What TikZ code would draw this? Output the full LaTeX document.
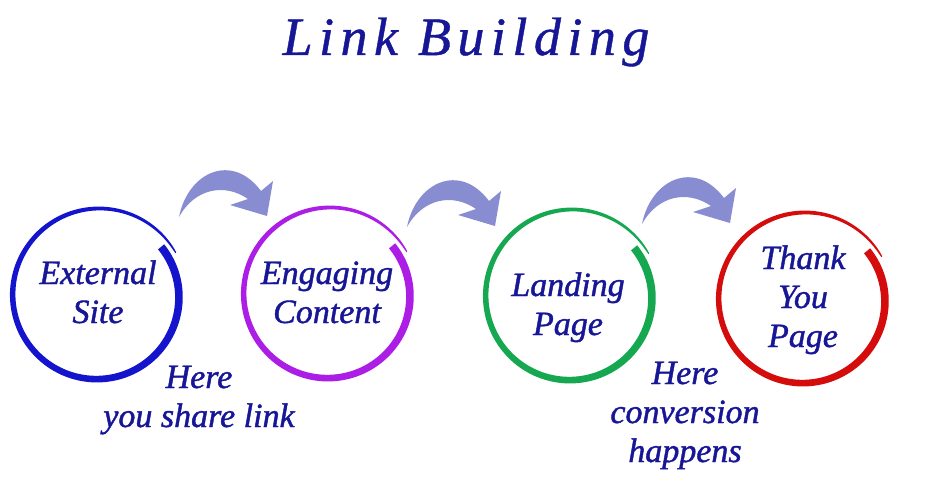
\documentclass[tikz,border=0pt]{standalone}
\usepackage{fontspec}
\setmainfont{Liberation Serif}
\newfontfamily\titlefont[LetterSpace=12,FakeBold=0.8]{Liberation Serif}
\newfontfamily\lblfont[FakeBold=1.2]{Liberation Serif}
\definecolor{txt}{RGB}{22,22,150}
\definecolor{arrowc}{RGB}{136,140,208}
\definecolor{ringblue}{RGB}{20,20,205}
\definecolor{ringpurple}{RGB}{172,30,230}
\definecolor{ringgreen}{RGB}{22,168,80}
\definecolor{ringred}{RGB}{212,12,12}
\newcommand{\ringshape}[3]{%
  \fill[#3] plot[domain=0:1,samples=160,variable=\t]
    ({#1+(80+9*\t+0.5*(1+7*sqrt(1-\t)))*cos(-38+369*\t)},{#2+(80+9*\t+0.5*(1+7*sqrt(1-\t)))*sin(-38+369*\t)})
    -- plot[domain=0:1,samples=160,variable=\t]
    ({#1+(80+9*(1-\t)-0.5*(1+7*sqrt(\t)))*cos(-38+369*(1-\t))},{#2+(80+9*(1-\t)-0.5*(1+7*sqrt(\t)))*sin(-38+369*(1-\t))})
    -- cycle;}
\newcommand{\fatarrow}[2]{%
  \fill[arrowc, shift={(#1,#2)}] (179,217) .. controls (188,172) and (232,152) .. (261,191)
    -- (273,181) -- (267,216) -- (230,205) -- (248,199)
    .. controls (225,183) and (195,188) .. (179,217) -- cycle;}
\tikzset{
  lbl/.style={text=txt, font=\fontsize{34}{39}\selectfont\lblfont\itshape, align=center, inner sep=0pt, anchor=base},
  ttl/.style={text=txt, font=\fontsize{54}{54}\selectfont\titlefont\itshape, inner sep=0pt, anchor=base}
}
\begin{document}
\begin{tikzpicture}[x=1pt,y=-1pt]
\fill[white] (0,0) rectangle (930,484);
\useasboundingbox (0,0) rectangle (930,484);
\node[ttl] (title) at (466,55) {Link Building};
% arrows
\fatarrow{0}{0}
\fatarrow{228}{10}
\fatarrow{463}{7}
% rings
\ringshape{98}{296}{ringblue}
\ringshape{329}{295}{ringpurple}
\ringshape{571}{297}{ringgreen}
\ringshape{804}{300}{ringred}
% labels
\node[lbl] (ext) at (98,323) {External\\Site};
\node[lbl] (eng) at (327,323) {Engaging\\Content};
\node[lbl] (land) at (568,335) {Landing\\Page};
\node[lbl] (thank) at (803,347) {Thank\\You\\Page};
\node[lbl] (share) at (199,427) {Here\\you share link};
\node[lbl] (conv) at (685,462) {Here\\conversion\\happens};
\end{tikzpicture}
\end{document}
